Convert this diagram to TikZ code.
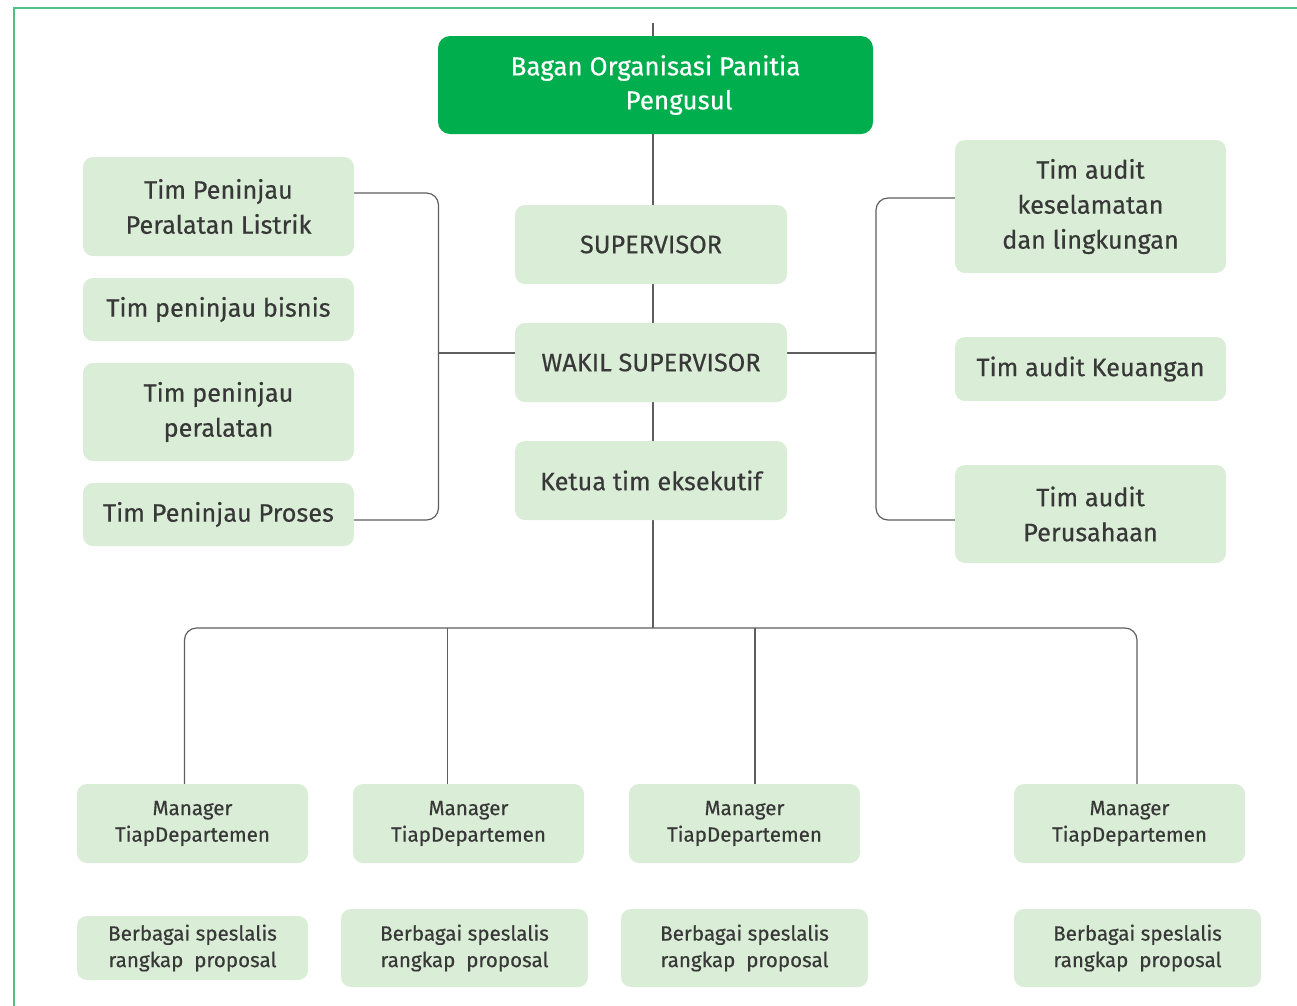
\documentclass[tikz,border=0pt]{standalone}
\usepackage{fontspec}
\setmainfont{Fira Sans}[FakeBold=0.4]
\usetikzlibrary{backgrounds}
\definecolor{frameGreen}{HTML}{4DC283}
\definecolor{titleGreen}{HTML}{00AE4D}
\definecolor{boxFill}{HTML}{DAEDD6}
\definecolor{txt}{HTML}{383838}
\definecolor{lineGray}{HTML}{5E5E5E}
\tikzset{
  box/.style={draw=none, fill=boxFill, rounded corners=10pt, inner sep=0pt,
    align=center, text=txt, font=\fontsize{25.3}{35}\selectfont},
  smallbox/.style={box, font=\fontsize{20.6}{26.5}\selectfont},
  titlebox/.style={box, fill=titleGreen, text=white, rounded corners=12pt,
    font=\fontsize{26}{34}\selectfont},
  conn/.style={draw=lineGray, line width=1.2pt},
}
\begin{document}
\begin{tikzpicture}[x=1pt,y=-1pt]
\useasboundingbox (0,0) rectangle (1297,1005);
% outer frame
\draw[frameGreen, line width=2pt] (13.5,1010) -- (13.5,7.5) -- (1302,7.5);

% title
\node[titlebox, minimum width=435pt, minimum height=98pt] (T) at (655.5,85)
  {Bagan Organisasi Panitia\\\hspace*{47pt}Pengusul};

% central column
\node[box, minimum width=272pt, minimum height=79pt] (S) at (651,244.5) {SUPERVISOR};
\node[box, minimum width=272pt, minimum height=79pt] (W) at (651,362.5) {WAKIL SUPERVISOR};
\node[box, minimum width=272pt, minimum height=79pt] (K) at (651,480.5) {Ketua tim eksekutif};

% left review teams
\node[box, minimum width=271pt, minimum height=99pt] (L1) at (218.5,206.5) {Tim Peninjau\\Peralatan Listrik};
\node[box, minimum width=271pt, minimum height=63pt] (L2) at (218.5,309.5) {Tim peninjau bisnis};
\node[box, minimum width=271pt, minimum height=98pt] (L3) at (218.5,412) {Tim peninjau\\peralatan};
\node[box, minimum width=271pt, minimum height=63pt] (L4) at (218.5,514.5) {Tim Peninjau Proses};

% right audit teams
\node[box, minimum width=271pt, minimum height=133pt] (R1) at (1090.5,206.5) {Tim audit\\keselamatan\\dan lingkungan};
\node[box, minimum width=271pt, minimum height=64pt] (R2) at (1090.5,369) {Tim audit Keuangan};
\node[box, minimum width=271pt, minimum height=98pt] (R3) at (1090.5,514) {Tim audit\\Perusahaan};

% department managers
\node[smallbox, minimum width=231pt, minimum height=79pt] (M1) at (192.5,823.5) {Manager\\TiapDepartemen};
\node[smallbox, minimum width=231pt, minimum height=79pt] (M2) at (468.5,823.5) {Manager\\TiapDepartemen};
\node[smallbox, minimum width=231pt, minimum height=79pt] (M3) at (744.5,823.5) {Manager\\TiapDepartemen};
\node[smallbox, minimum width=231pt, minimum height=79pt] (M4) at (1129.5,823.5) {Manager\\TiapDepartemen};

% specialists
\node[smallbox, minimum width=231pt, minimum height=64pt] (B1) at (192.5,948) {Berbagai speslalis\\rangkap\ \ proposal};
\node[smallbox, minimum width=247pt, minimum height=78pt] (B2) at (464.5,948) {Berbagai speslalis\\rangkap\ \ proposal};
\node[smallbox, minimum width=247pt, minimum height=78pt] (B3) at (744.5,948) {Berbagai speslalis\\rangkap\ \ proposal};
\node[smallbox, minimum width=247pt, minimum height=78pt] (B4) at (1137.5,948) {Berbagai speslalis\\rangkap\ \ proposal};

% junction points
\coordinate (top) at (653,23);
\coordinate (hub) at (653,628);
\coordinate (lt) at (438.5,193);
\coordinate (lm) at (438.5,353);
\coordinate (lb) at (438.5,520);
\coordinate (rt) at (876,198);
\coordinate (rm) at (876,353);
\coordinate (rb) at (876,520);
\coordinate (d1) at (184.5,628);
\coordinate (d2) at (447.5,628);
\coordinate (d3) at (755,628);
\coordinate (d4) at (1137,628);

\begin{scope}[on background layer]
  % main spine
  \draw[conn] (top) -- (hub);
  % left bracket
  \draw[conn, rounded corners=12pt] (L1.east |- lt) -- (lt) -- (lb) -- (L4.east |- lb);
  \draw[conn] (lm) -- (W.west |- lm);
  % right bracket
  \draw[conn, rounded corners=12pt] (R1.west |- rt) -- (rt) -- (rb) -- (R3.west |- rb);
  \draw[conn] (W.east |- rm) -- (rm);
  % department branches
  \draw[conn, rounded corners=12pt] (M1.north -| d1) -- (d1) -- (d4) -- (M4.north -| d4);
  \draw[conn] (d2) -- (M2.north -| d2);
  \draw[conn] (d3) -- (M3.north -| d3);
\end{scope}
\end{tikzpicture}
\end{document}
